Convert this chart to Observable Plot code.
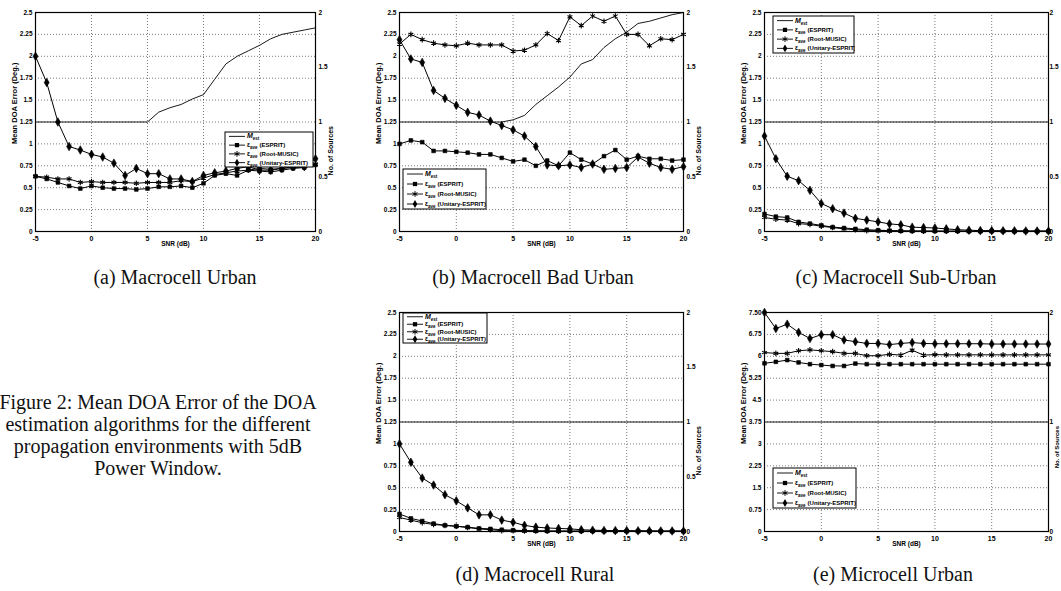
<!DOCTYPE html>
<html><head><meta charset="utf-8">
<script src="https://cdn.jsdelivr.net/npm/d3@7"></script>
<script src="https://cdn.jsdelivr.net/npm/@observablehq/plot@0.6"></script>
<style>
html,body{margin:0;padding:0;background:#fff;}
body{width:1061px;height:591px;overflow:hidden;position:relative;font-family:"Liberation Sans",Arial,sans-serif;}
.panel{position:absolute;}
.cap{position:absolute;font-family:"Liberation Serif","Times New Roman",serif;font-size:20px;line-height:20px;color:#111;white-space:nowrap;transform:translateX(-50%);text-align:center;}
.fig{position:absolute;font-family:"Liberation Serif","Times New Roman",serif;font-size:20px;line-height:22px;color:#111;white-space:nowrap;text-align:center;transform:translateX(-50%);}
.leg{position:absolute;}
</style>
</head><body>
<script>
// ---------- data ----------
const snr = [-5,-4,-3,-2,-1,0,1,2,3,4,5,6,7,8,9,10,11,12,13,14,15,16,17,18,19,20];
const xTicks = [-5,0,5,10,15,20];
const xTickLabels = ["-5","0","5","10","15","20"];
const yTicksAD = [0,0.25,0.5,0.75,1,1.25,1.5,1.75,2,2.25,2.5];
const yLabelsAD = ["0","0.25","0.5","0.75","1","1.25","1.5","1.75","2","2.25","2.5"];
const yTicksE = [0,0.75,1.5,2.25,3,3.75,4.5,5.25,6,6.75,7.5];
const yLabelsE = ["0","0.75","1.5","2.25","3","3.75","4.5","5.25","6","6.75","7.50"];
const srcTicks = [0,0.5,1,1.5,2];
const srcLabels = ["0","0.5","1","1.5","2"];
const srcTicksE = [0,1,2];
const srcLabelsE = ["0","1","2"];
const seriesNames = ["ESPRIT","Root-MUSIC","Unitary-ESPRIT"];
const panelCaptions = ["(a) Macrocell Urban","(b) Macrocell Bad Urban","(c) Macrocell Sub-Urban","(d) Macrocell Rural","(e) Microcell Urban"];
const figureCaption = ["Figure 2: Mean DOA Error of the DOA","estimation algorithms for the different","propagation environments with 5dB","Power Window."];

// (a) Macrocell Urban
const aMest    = [1,1,1,1,1,1,1,1,1,1,1,1.09,1.13,1.16,1.21,1.25,1.39,1.53,1.6,1.65,1.7,1.76,1.8,1.82,1.84,1.86];
const aEsprit  = [0.63,0.60,0.56,0.52,0.49,0.52,0.50,0.49,0.49,0.48,0.49,0.51,0.51,0.52,0.50,0.55,0.64,0.66,0.64,0.70,0.69,0.68,0.70,0.72,0.73,0.76];
const aMusic   = [0.63,0.62,0.60,0.60,0.56,0.57,0.56,0.56,0.56,0.55,0.56,0.56,0.56,0.58,0.57,0.61,0.65,0.67,0.69,0.70,0.72,0.71,0.72,0.73,0.74,0.77];
const aUnitary = [2.0,1.7,1.25,0.97,0.93,0.88,0.85,0.78,0.64,0.72,0.66,0.66,0.60,0.60,0.57,0.64,0.67,0.69,0.72,0.74,0.70,0.70,0.72,0.74,0.74,0.83];
// (b) Macrocell Bad Urban
const bMest    = [1,1,1,1,1,1,1,1,1,1,1.02,1.06,1.16,1.24,1.32,1.41,1.53,1.57,1.68,1.76,1.82,1.9,1.92,1.95,1.98,2.0];
const bEsprit  = [1.0,1.04,1.02,0.92,0.92,0.91,0.90,0.88,0.88,0.84,0.80,0.82,0.75,0.81,0.75,0.90,0.82,0.77,0.86,0.93,0.82,0.86,0.83,0.83,0.81,0.82];
const bMusic   = [2.14,2.25,2.19,2.15,2.13,2.12,2.15,2.13,2.13,2.13,2.06,2.07,2.13,2.26,2.18,2.45,2.35,2.46,2.40,2.46,2.25,2.25,2.12,2.20,2.19,2.25];
const bUnitary = [2.19,1.97,1.93,1.61,1.52,1.44,1.36,1.33,1.26,1.21,1.16,1.09,0.97,0.76,0.75,0.76,0.73,0.77,0.71,0.72,0.73,0.85,0.78,0.73,0.71,0.74];
// (c) Macrocell Sub-Urban
const cMest    = [1,1,1,1,1,1,1,1,1,1,1,1,1,1,1,1,1,1,1,1,1,1,1,1,1,1];
const cEsprit  = [0.20,0.17,0.16,0.11,0.09,0.07,0.05,0.04,0.03,0.02,0.015,0.01,0.008,0.006,0.005,0.005,0.004,0.004,0.003,0.003,0.003,0.003,0.002,0.002,0.002,0.002];
const cMusic   = [0.16,0.14,0.13,0.09,0.08,0.06,0.045,0.03,0.02,0.01,0.008,0.006,0.005,0.004,0.004,0.003,0.003,0.003,0.002,0.002,0.002,0.002,0.002,0.002,0.002,0.002];
const cUnitary = [1.09,0.83,0.63,0.58,0.47,0.32,0.26,0.21,0.15,0.13,0.11,0.087,0.076,0.049,0.045,0.04,0.03,0.02,0.015,0.01,0.01,0.008,0.008,0.006,0.006,0.005];
// (d) Macrocell Rural
const dMest    = [1,1,1,1,1,1,1,1,1,1,1,1,1,1,1,1,1,1,1,1,1,1,1,1,1,1];
const dEsprit  = [0.20,0.15,0.12,0.09,0.07,0.06,0.05,0.035,0.03,0.02,0.015,0.01,0.008,0.006,0.005,0.005,0.004,0.004,0.003,0.003,0.003,0.003,0.002,0.002,0.002,0.002];
const dMusic   = [0.16,0.13,0.10,0.08,0.07,0.06,0.045,0.03,0.02,0.01,0.008,0.006,0.005,0.004,0.004,0.003,0.003,0.003,0.002,0.002,0.002,0.002,0.002,0.002,0.002,0.002];
const dUnitary = [1.0,0.79,0.61,0.53,0.42,0.35,0.27,0.19,0.19,0.13,0.105,0.07,0.05,0.04,0.035,0.03,0.02,0.015,0.012,0.01,0.01,0.008,0.008,0.006,0.006,0.005];
// (e) Microcell Urban
const eMest    = [1,1,1,1,1,1,1,1,1,1,1,1,1,1,1,1,1,1,1,1,1,1,1,1,1,1];
const eEsprit  = [5.76,5.81,5.87,5.79,5.73,5.70,5.67,5.67,5.75,5.73,5.73,5.73,5.73,5.73,5.73,5.73,5.73,5.73,5.73,5.73,5.73,5.73,5.73,5.73,5.73,5.73];
const eMusic   = [6.13,6.10,6.10,6.19,6.22,6.19,6.16,6.10,6.10,6.02,6.02,6.07,6.04,6.21,6.04,6.06,6.05,6.05,6.05,6.05,6.05,6.05,6.05,6.05,6.05,6.05];
const eUnitary = [7.5,6.95,7.1,6.82,6.61,6.74,6.74,6.56,6.5,6.44,6.44,6.40,6.44,6.47,6.44,6.43,6.43,6.43,6.43,6.43,6.42,6.42,6.42,6.42,6.42,6.42];

// ---------- layout ----------
const ML = 40, MR = 26, MT = 12, MB = 26, FH = 219;
const panels = [
  {fx:35,  fy:12,  fw:280, mest:aMest, esprit:aEsprit, music:aMusic, unitary:aUnitary, ymax:2.5, yt:yTicksAD, yl:yLabelsAD, st:srcTicks, sl:srcLabels, rpad:3, rlab:15, leg:[225,132,88,35], cap:[175,267]},
  {fx:399, fy:12,  fw:284, mest:bMest, esprit:bEsprit, music:bMusic, unitary:bUnitary, ymax:2.5, yt:yTicksAD, yl:yLabelsAD, st:srcTicks, sl:srcLabels, rpad:3, rlab:15, leg:[403,169,83,40], cap:[533,267]},
  {fx:764, fy:12,  fw:284, mest:cMest, esprit:cEsprit, music:cMusic, unitary:cUnitary, ymax:2.5, yt:yTicksAD, yl:yLabelsAD, st:srcTicks, sl:srcLabels, rpad:1, rlab:null, leg:[773,16,81,37], cap:[896,267]},
  {fx:399, fy:312, fw:284, mest:dMest, esprit:dEsprit, music:dMusic, unitary:dUnitary, ymax:2.5, yt:yTicksAD, yl:yLabelsAD, st:srcTicks, sl:srcLabels, rpad:3, rlab:15, leg:[403,313,84,30], cap:[535,564]},
  {fx:764, fy:312, fw:284, mest:eMest, esprit:eEsprit, music:eMusic, unitary:eUnitary, ymax:7.5, yt:yTicksE, yl:yLabelsE, st:srcTicksE, sl:srcLabelsE, rpad:1, rlab:8.5, leg:[773,468,83,40], cap:[893,564]}
];

const gridStyle = {stroke:"#000", strokeOpacity:0.75, strokeWidth:0.7, strokeDasharray:"1,2"};

panels.forEach((p, k) => {
  const ratio = p.ymax / 2;
  const rows = snr.map((x, i) => ({x, mest: p.mest[i] * ratio, esprit: p.esprit[i], music: p.music[i], unitary: p.unitary[i]}));
  const rightTicks = p.st.map(v => v * ratio);
  const marks = [
    Plot.gridX(xTicks.slice(1, -1), gridStyle),
    Plot.gridY(p.yt.slice(1, -1), gridStyle),
    Plot.axisX(xTicks, {tickSize: 0, tickPadding: 5, label: null, tickFormat: d => xTickLabels[xTicks.indexOf(d)], fontSize: 7}),
    Plot.axisY(p.yt, {anchor: "left", tickSize: 0, tickPadding: 3, label: null, tickFormat: d => p.yl[p.yt.indexOf(d)], fontSize: 6.5}),
    Plot.axisY(rightTicks, {anchor: "right", tickSize: 0, tickPadding: p.rpad, label: null, tickFormat: d => p.sl[rightTicks.indexOf(d)], fontSize: 6.5}),
    Plot.text(["Mean DOA Error (Deg.)"], {frameAnchor: "left", dx: -21, dy: 22, rotate: -90, fontSize: 7.5, fontWeight: "bold"}),
    Plot.text(["SNR (dB)"], {frameAnchor: "bottom", dy: 14, fontSize: 6.5, fontWeight: "bold"}),
    Plot.line(rows, {x: "x", y: "mest", stroke: "#000", strokeWidth: 0.9}),
    Plot.line(rows, {x: "x", y: "esprit", stroke: "#000", strokeWidth: 1}),
    Plot.line(rows, {x: "x", y: "music", stroke: "#000", strokeWidth: 1}),
    Plot.line(rows, {x: "x", y: "unitary", stroke: "#000", strokeWidth: 1}),
    Plot.dot(rows, {x: "x", y: "esprit", symbol: "square", r: 2.1, fill: "#000", stroke: "#000", strokeWidth: 0.6}),
    Plot.dot(rows, {x: "x", y: "music", symbol: "asterisk", r: 2.6, stroke: "#000", strokeWidth: 1.1}),
    Plot.dot(rows, {x: "x", y: "unitary", symbol: "diamond", r: 2.6, fill: "#000", stroke: "#000", strokeWidth: 0.6}),
    Plot.frame({stroke: "#000", strokeWidth: 1.2})
  ];
  if (p.rlab !== null) {
    marks.push(Plot.text(["No. of Sources"], {frameAnchor: "right", dx: p.rlab, dy: 4, rotate: -90, fontSize: p.rlab < 10 ? 6 : 7, fontWeight: "bold"}));
  }
  const chart = Plot.plot({
    width: ML + p.fw + MR, height: MT + FH + MB,
    marginLeft: ML, marginRight: MR, marginTop: MT, marginBottom: MB,
    x: {domain: [-5, 20]},
    y: {domain: [0, p.ymax]},
    style: {fontFamily: "'Liberation Sans', Arial, sans-serif", fontSize: "7px", fontWeight: "bold", color: "#000", background: "transparent", overflow: "visible"},
    marks
  });
  chart.classList.add("panel");
  chart.style.left = (p.fx - ML) + "px";
  chart.style.top = (p.fy - MT) + "px";
  document.body.appendChild(chart);

  // legend box
  const [lx, ly, lw, lh] = p.leg;
  const svg = d3.select(document.body).append("svg").attr("class", "leg")
    .attr("width", lw + 2).attr("height", lh + 2)
    .style("left", (lx - 1) + "px").style("top", (ly - 1) + "px");
  svg.append("rect").attr("x", 1).attr("y", 1).attr("width", lw).attr("height", lh)
    .attr("fill", "#fff").attr("stroke", "#000").attr("stroke-width", 1);
  const rh = lh / 4;
  const symbols = [null, d3.symbolSquare, d3.symbolAsterisk, d3.symbolDiamond];
  const labels = ["", ...seriesNames.map(s => "(" + s + ")")];
  for (let r = 0; r < 4; r++) {
    const cy = 1 + rh * (r + 0.5);
    svg.append("line").attr("x1", 5).attr("x2", 21).attr("y1", cy).attr("y2", cy).attr("stroke", "#000").attr("stroke-width", 0.9);
    if (symbols[r]) {
      const size = r === 2 ? 22 : 18;
      const path = svg.append("path").attr("d", d3.symbol(symbols[r], size)()).attr("transform", `translate(13,${cy})`);
      if (r === 2) path.attr("fill", "none").attr("stroke", "#000").attr("stroke-width", 1);
      else path.attr("fill", "#000");
    }
    const t = svg.append("text").attr("x", 23).attr("y", cy + 2).attr("font-size", 6).attr("font-weight", "bold")
      .attr("font-family", "'Liberation Sans', Arial, sans-serif").attr("fill", "#000");
    if (r === 0) {
      t.append("tspan").attr("font-style", "italic").attr("font-size", 7).text("M");
      t.append("tspan").attr("font-size", 4.5).attr("dy", 2).text("est");
    } else {
      t.append("tspan").attr("font-size", 6.5).text("ε");
      t.append("tspan").attr("font-size", 4.5).attr("dy", 2).text("ave");
      t.append("tspan").attr("dy", -2).attr("dx", 2).text(labels[r]);
    }
  }

  // caption
  const cap = document.createElement("div");
  cap.className = "cap";
  cap.textContent = panelCaptions[k];
  cap.style.left = p.cap[0] + "px";
  cap.style.top = p.cap[1] + "px";
  document.body.appendChild(cap);
});

const fig = document.createElement("div");
fig.className = "fig";
fig.style.left = "158px";
fig.style.top = "391px";
fig.innerHTML = figureCaption.join("<br>");
document.body.appendChild(fig);
</script>
</body></html>
